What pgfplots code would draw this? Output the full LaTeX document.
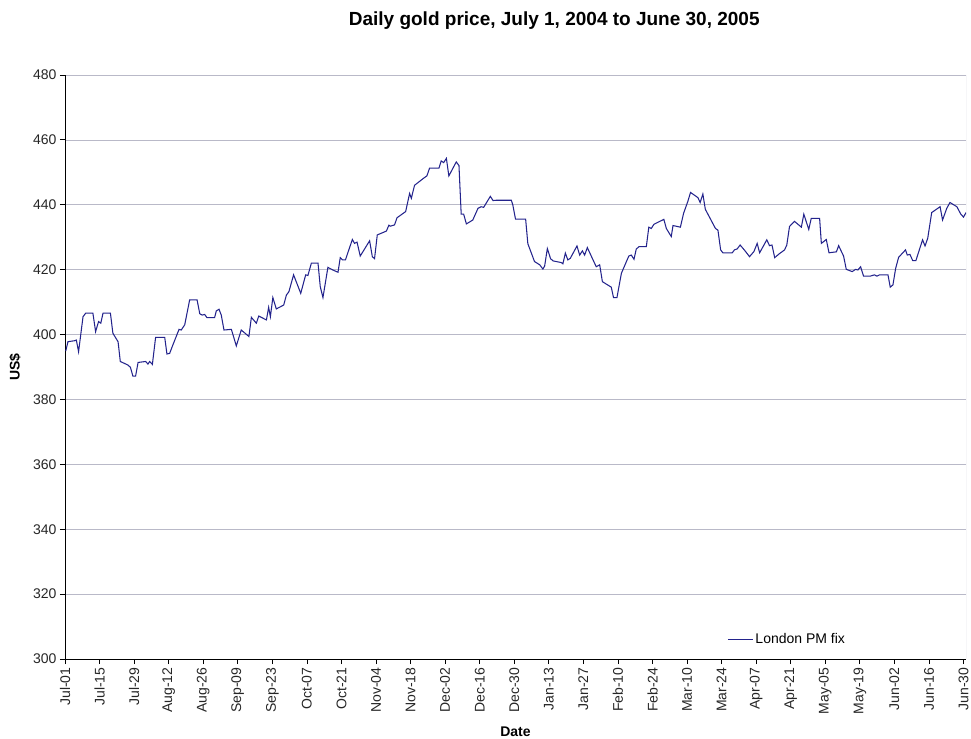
\documentclass[border=0pt]{standalone}
\usepackage{fontspec}
\setmainfont{Liberation Sans}
\usepackage{pgfplots}
\pgfplotsset{compat=1.18}
\definecolor{goldline}{RGB}{35,35,140}
\definecolor{gridc}{RGB}{185,185,200}
\begin{document}
\begin{tikzpicture}
\useasboundingbox (-65bp,-80bp) rectangle (906bp,659bp);
\begin{axis}[
  at={(0,0)}, anchor=south west,
  width=901bp, height=584bp, scale only axis,
  xmin=0, xmax=365, ymin=300, ymax=480,
  axis x line*=bottom, axis y line*=left,
  axis line style={black, line width=0.8bp, -},
  xtick={0,14,...,364},
  xticklabels={Jul-01,Jul-15,Jul-29,Aug-12,Aug-26,Sep-09,Sep-23,Oct-07,Oct-21,Nov-04,Nov-18,Dec-02,Dec-16,Dec-30,Jan-13,Jan-27,Feb-10,Feb-24,Mar-10,Mar-24,Apr-07,Apr-21,May-05,May-19,Jun-02,Jun-16,Jun-30},
  ytick={300,320,...,480},
  tick align=outside,
  major tick length=5bp,
  tick style={black, line width=0.8bp},
  /pgf/number format/assume math mode=true,
  tick label style={font=\fontsize{14bp}{16bp}\selectfont, text=black!85},
  x tick label style={rotate=90, anchor=east},
  ymajorgrids, grid style={gridc, line width=0.7bp},
  title={Daily gold price, July 1, 2004 to June 30, 2005},
  title style={at={(axis description cs:0.543,1.082)}, anchor=center, font=\bfseries\fontsize{19bp}{22bp}\selectfont},
  xlabel={Date},
  xlabel style={at={(axis description cs:0.5,-0.125)}, anchor=center, font=\bfseries\fontsize{14bp}{16bp}\selectfont},
  ylabel={US\$},
  ylabel style={at={(axis description cs:-0.0555,0.5)}, anchor=center, font=\bfseries\fontsize{14bp}{16bp}\selectfont},
  legend style={at={(axis description cs:0.735,0.0342)}, anchor=west, draw=none, fill=none, inner sep=0pt, font=\fontsize{14bp}{16bp}\selectfont},
  legend cell align=left,
  legend image code/.code={\draw[#1] (0bp,0bp) -- (25bp,0bp);},
]
\draw[gridc, line width=0.8bp] (rel axis cs:1,0) -- (rel axis cs:1,1);
\addplot[goldline, line width=1.05bp] coordinates {
(0.3,394.9)(1.2,397.8)(3.9,398.1)(4.6,398.3)(5.5,394.7)(7.3,405.5)(8.4,406.6)(11.3,406.6)(12.4,400.9)(13.6,404)(14.5,403.5)(15.4,406.6)(18.4,406.6)(19.4,400.4)(21.5,397.8)(22.4,391.7)(25.5,390.6)(26.5,389.9)(27.5,387.2)(28.6,387.2)(29.6,391.4)(32.7,391.7)(33.6,390.9)(34.3,391.7)(35.4,390.8)(36.7,399.1)(40.4,399.1)(41.3,394)(42.4,394.2)(43.7,396.8)(46.2,401.6)(47.1,401.4)(48.5,403)(50.5,410.7)(53.5,410.7)(54.6,406.4)(55.6,406)(56.6,406.2)(57.5,405.2)(60.6,405.2)(61.3,407.3)(62.4,407.8)(63.3,406)(64.4,401.4)(67.4,401.6)(69.4,396.5)(71.4,401.4)(74.5,399.4)(75.5,405.3)(77.5,403.5)(78.5,405.7)(81.6,404.5)(82.5,408.4)(83.2,405.5)(84.2,411.4)(85.6,407.9)(88.6,409.1)(89.7,412.2)(90.7,413.2)(92.6,418.4)(95.5,412.7)(97.5,418.4)(98.4,418.2)(99.8,422)(102.5,422)(103.4,414.8)(104.5,411.4)(106.5,420.7)(108.5,419.9)(110.6,419.2)(111.5,423.7)(112.4,423)(113.6,423)(116.4,429.3)(117.3,428.1)(118.3,428.5)(119.6,424.2)(123.4,428.9)(124.5,424)(125.4,423.4)(126.5,430.7)(130.2,431.9)(131.2,433.7)(131.8,433.4)(133.5,433.8)(134.5,436)(138,437.9)(139.6,443.5)(140.3,442)(141.6,446)(145.3,448.2)(146.6,448.9)(147.7,451.3)(151.5,451.3)(152.4,453.5)(153.4,453)(154.5,454.3)(155.5,448.9)(158.5,453.2)(159.6,452.1)(160.5,437.1)(161.5,437.1)(162.6,434.1)(165.2,435.3)(167.3,438.9)(168.6,439.4)(169.6,439.2)(172.3,442.6)(173.4,441.3)(174.7,441.4)(180.8,441.4)(181.4,440)(182.5,435.6)(186.6,435.6)(187.5,428)(190.2,422.5)(192.3,421.5)(193.6,420.2)(194.3,421.1)(195.4,426.5)(196.7,423.4)(197.7,422.7)(201,422.2)(201.7,421.8)(202.7,425.1)(203.7,423)(204.7,423.5)(207.4,427.3)(208.5,424.5)(209.6,425.8)(210.5,424.5)(211.6,426.8)(215.2,420.9)(216.6,421.5)(217.7,416.3)(221.3,414.6)(222.2,411.4)(223.6,411.4)(225.4,418.9)(228.4,424.2)(229.4,424.5)(230.5,423.2)(231.4,426.3)(232.5,427.1)(235.5,427.1)(236.5,433.1)(237.5,432.7)(238.6,434)(242.6,435.5)(243.6,432.7)(245.6,430.2)(246.3,433.6)(249.3,433.1)(250.6,437.4)(252.3,441)(253.4,443.8)(256.4,442.2)(257.3,440.7)(258.4,443.3)(259.4,438.6)(263.5,432.7)(264.5,432.2)(265.6,426.1)(266.5,425.2)(270.3,425.2)(271.2,426.1)(272.3,426.4)(273.5,427.6)(275.7,425.6)(277.3,424)(279.1,425.6)(280.4,428.1)(281.4,425.2)(284.3,429.2)(285.4,427.4)(286.4,427.6)(287.5,423.7)(289.2,424.8)(291.5,426.1)(292.4,427.6)(293.5,433.3)(295.5,434.9)(298.3,433.1)(299.3,437.1)(301.3,432.4)(302.3,435.8)(305.7,435.8)(306.4,428.1)(308.4,429.3)(309.5,425.2)(312.5,425.5)(313.4,427.4)(315.4,424.2)(316.5,420.1)(318.9,419.4)(320.3,420.1)(321.2,419.9)(322.3,420.9)(323.5,418)(326.2,418)(327.9,418.4)(328.9,418)(330,418.4)(333.4,418.4)(334.3,414.6)(335.4,415.3)(336.5,420.4)(337.7,423.8)(340.5,426.1)(341.2,424.5)(342.3,424.7)(343.4,422.8)(344.7,422.8)(347.4,429.2)(348.4,427.3)(349.5,429.7)(351.1,437.6)(354.5,439.4)(355.5,435.3)(357.2,438.9)(358.5,440.7)(361.3,439.4)(362.9,437.1)(364,436.2)(365,437.6)
};
\addlegendentry{London PM fix}
\end{axis}
\end{tikzpicture}
\end{document}
